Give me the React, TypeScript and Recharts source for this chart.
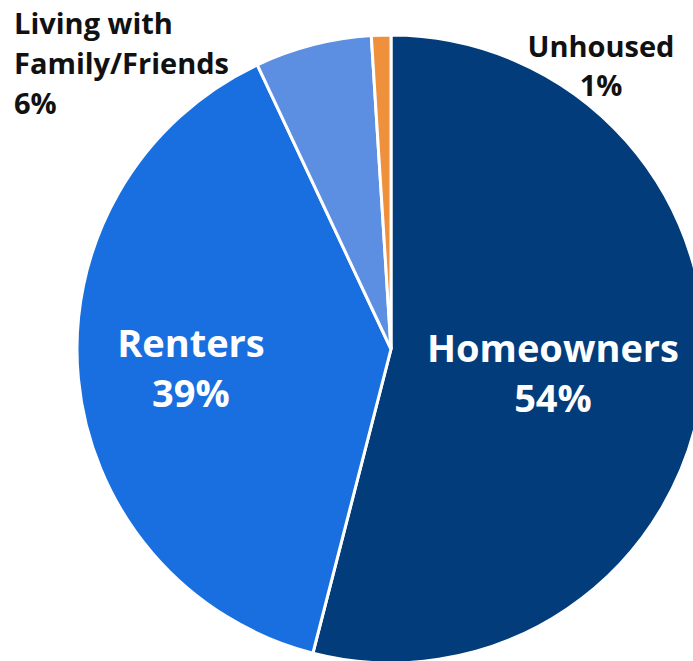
import { PieChart, Pie, Cell } from 'recharts'

const names = ['Homeowners', 'Renters', 'Living with Family/Friends', 'Unhoused']
const shares = [54, 39, 6, 1]
const labelLines = [
  ['Homeowners', '54%'],
  ['Renters', '39%'],
  ['Living with', 'Family/Friends', '6%'],
  ['Unhoused', '1%'],
]
const colors = ['#023c7b', '#1a6fe0', '#5c8fe2', '#ef903d']

const data = names.map((name, i) => ({ name, value: shares[i] }))

const RADIAN = Math.PI / 180
const font = '"Open Sans", "Noto Sans", sans-serif'

function SliceLabel(props: any) {
  const { cx, cy, midAngle, outerRadius, index } = props
  const lines = labelLines[index]
  if (index < 2) {
    const r = outerRadius * (index === 0 ? 0.52 : 0.64)
    const x = cx + r * Math.cos(-midAngle * RADIAN)
    const y = cy + r * Math.sin(-midAngle * RADIAN) + (index === 0 ? -7 : -11)
    return (
      <text x={x} y={y} fill="#fff" textAnchor="middle" fontFamily={font} fontWeight={700} fontSize={38}>
        <tspan x={x} y={y}>{lines[0]}</tspan>
        <tspan x={x} y={y + 50}>{lines[1]}</tspan>
      </text>
    )
  }
  if (index === 2) {
    const x = cx - outerRadius - 63
    const y = cy - outerRadius - 1
    return (
      <text x={x} y={y} fill="#111" textAnchor="start" fontFamily={font} fontWeight={700} fontSize={29}>
        {lines.map((l, i) => (
          <tspan key={i} x={x} y={y + i * 40}>{l}</tspan>
        ))}
      </text>
    )
  }
  const x = cx + 210
  const y = cy - outerRadius + 22
  return (
    <text x={x} y={y} fill="#111" textAnchor="middle" fontFamily={font} fontWeight={700} fontSize={29}>
      {lines.map((l, i) => (
        <tspan key={i} x={x} y={y + i * 39}>{l}</tspan>
      ))}
    </text>
  )
}

export default function App() {
  return (
    <div style={{ position: 'absolute', left: 0, top: 0, width: 693, height: 661, background: '#fff' }}>
      <PieChart width={693} height={661} margin={{ top: 0, right: 0, bottom: 0, left: 0 }}>
        <Pie
          data={data}
          dataKey="value"
          nameKey="name"
          cx={391}
          cy={349}
          outerRadius={314}
          startAngle={90}
          endAngle={-270}
          stroke="#fff"
          strokeWidth={3}
          label={SliceLabel}
          labelLine={false}
          isAnimationActive={false}
        >
          {data.map((d, i) => (
            <Cell key={d.name} fill={colors[i]} />
          ))}
        </Pie>
      </PieChart>
    </div>
  )
}
